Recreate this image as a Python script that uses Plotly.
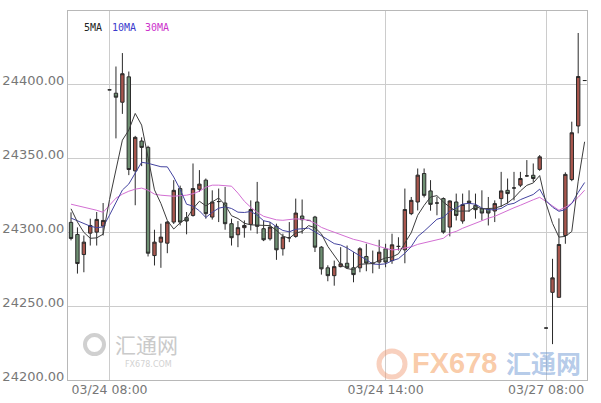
import plotly.graph_objects as go

opens = [24306.8, 24298.6, 24285.0, 24299.5, 24300.2, 24304.3, 24396.6, 24394.3, 24388.2, 24405.4,
         24341.7, 24361.9, 24357.6, 24284.3, 24293.4, 24292.7, 24307.0, 24329.7, 24310.0, 24311.5,
         24329.2, 24335.4, 24310.4, 24320.9, 24319.9, 24305.9, 24298.4, 24303.2, 24305.4, 24320.6,
         24302.5, 24295.7, 24304.1, 24288.9, 24296.4, 24297.3, 24311.1, 24308.1, 24310.4, 24290.0,
         24276.0, 24270.7, 24276.8, 24279.1, 24276.0, 24276.0, 24283.7, 24279.1, 24279.9, 24288.9,
         24280.9, 24290.5, 24288.2, 24312.7, 24320.6, 24339.9, 24328.1, 24319.9, 24322.9, 24303.6,
         24320.6, 24307.7, 24321.2, 24318.3, 24316.1, 24315.7, 24314.5, 24322.9, 24328.5, 24330.1,
         24332.0, 24338.3, 24338.7, 24342.7, 24235.2, 24259.4, 24256.0, 24297.9, 24335.8, 24372.1,
         24402.9]
highs = [24313.6, 24303.4, 24297.9, 24309.3, 24313.8, 24319.9, 24396.6, 24412.4, 24421.5, 24409.0,
         24365.4, 24364.4, 24358.7, 24301.8, 24305.9, 24307.7, 24335.4, 24331.7, 24313.8, 24346.7,
         24342.2, 24336.5, 24328.5, 24329.7, 24330.8, 24309.3, 24307.7, 24308.1, 24321.7, 24334.2,
         24308.1, 24307.0, 24305.9, 24299.1, 24307.0, 24322.9, 24322.3, 24308.1, 24311.2, 24290.7,
         24277.7, 24280.9, 24290.0, 24291.1, 24286.6, 24290.0, 24292.3, 24287.7, 24295.0, 24292.3,
         24299.1, 24296.7, 24329.7, 24324.0, 24343.3, 24343.3, 24335.4, 24324.0, 24323.7, 24321.7,
         24326.3, 24326.3, 24328.5, 24326.3, 24328.5, 24324.0, 24321.7, 24341.0, 24336.5, 24341.0,
         24341.0, 24349.0, 24346.7, 24352.4, 24235.2, 24282.1, 24309.5, 24340.7, 24375.0, 24435.1,
         24402.9]
lows = [24294.6, 24272.1, 24273.0, 24291.1, 24291.1, 24297.9, 24396.6, 24363.7, 24380.3, 24338.8,
        24318.4, 24344.9, 24283.7, 24277.6, 24276.0, 24285.9, 24305.7, 24304.7, 24298.7, 24310.7,
        24327.4, 24309.3, 24308.7, 24307.0, 24301.8, 24291.1, 24290.0, 24296.4, 24301.3, 24299.1,
        24294.1, 24294.5, 24281.4, 24284.3, 24293.4, 24296.4, 24299.1, 24308.1, 24286.7, 24271.4,
        24266.9, 24263.9, 24276.3, 24275.3, 24266.2, 24273.0, 24273.7, 24272.3, 24275.3, 24276.4,
        24278.7, 24287.7, 24279.1, 24311.7, 24314.9, 24323.7, 24314.7, 24311.6, 24299.1, 24297.3,
        24308.1, 24305.9, 24313.8, 24309.3, 24308.1, 24304.7, 24307.0, 24317.2, 24319.5, 24321.7,
        24330.7, 24337.7, 24334.2, 24341.7, 24235.2, 24224.3, 24255.7, 24292.3, 24334.7, 24367.1,
        24402.9]
closes = [24295.9, 24278.9, 24293.4, 24304.7, 24308.8, 24308.1, 24396.6, 24391.6, 24407.5, 24342.6,
          24364.4, 24357.6, 24285.9, 24293.4, 24296.8, 24307.0, 24328.5, 24307.0, 24307.7, 24329.7,
          24332.7, 24312.7, 24320.6, 24320.9, 24305.9, 24296.4, 24303.2, 24304.7, 24315.5, 24304.1,
          24295.0, 24303.6, 24288.2, 24296.8, 24296.4, 24313.1, 24308.6, 24308.1, 24290.0, 24275.3,
          24270.7, 24276.8, 24278.7, 24276.0, 24271.4, 24288.9, 24279.2, 24279.1, 24286.6, 24279.9,
          24291.6, 24290.5, 24315.5, 24321.7, 24338.8, 24325.1, 24319.0, 24319.9, 24300.2, 24321.3,
          24311.5, 24318.9, 24320.2, 24315.4, 24313.1, 24313.1, 24319.5, 24328.1, 24326.3, 24330.1,
          24336.5, 24338.3, 24336.5, 24351.2, 24235.2, 24269.2, 24291.8, 24339.3, 24367.5, 24405.6,
          24402.9]

ma5 = [24316.0, 24307.0, 24300.0, 24296.0, 24296.3, 24298.8, 24322.3, 24342.0, 24362.5, 24369.3,
       24380.6, 24372.7, 24351.6, 24328.8, 24319.6, 24308.1, 24302.3, 24306.5, 24309.4, 24316.0,
       24321.1, 24318.0, 24320.7, 24323.3, 24318.6, 24311.3, 24309.4, 24306.2, 24305.1, 24304.8,
       24304.5, 24304.6, 24301.3, 24297.5, 24296.0, 24299.6, 24300.6, 24304.6, 24303.2, 24299.0,
       24290.5, 24284.2, 24278.3, 24275.5, 24274.7, 24278.4, 24278.8, 24278.9, 24281.0, 24282.7,
       24283.3, 24285.5, 24292.8, 24299.8, 24311.6, 24318.3, 24324.0, 24324.9, 24320.6, 24317.1,
       24314.4, 24314.4, 24314.5, 24317.6, 24315.9, 24316.2, 24316.4, 24317.8, 24320.0, 24323.4,
       24328.1, 24331.9, 24333.5, 24338.5, 24319.5, 24306.1, 24296.8, 24297.3, 24300.6, 24334.7,
       24361.4]
ma10 = [24309.7, 24307.7, 24305.7, 24304.2, 24303.2, 24303.7, 24311.7, 24320.7, 24328.7, 24332.8,
        24339.7, 24347.5, 24346.8, 24345.7, 24344.5, 24344.4, 24337.5, 24329.1, 24319.1, 24317.8,
        24314.6, 24310.1, 24313.6, 24316.4, 24317.3, 24316.2, 24313.7, 24313.5, 24314.2, 24311.7,
        24307.9, 24307.0, 24303.8, 24301.3, 24300.4, 24302.1, 24302.6, 24302.9, 24300.4, 24297.5,
        24295.1, 24292.4, 24291.5, 24289.4, 24286.9, 24284.5, 24281.5, 24278.6, 24278.3, 24278.7,
        24280.8, 24282.2, 24285.9, 24290.4, 24297.2, 24300.8, 24304.8, 24308.9, 24310.2, 24314.4,
        24316.4, 24319.2, 24319.7, 24319.1, 24316.5, 24315.3, 24315.4, 24316.2, 24318.8, 24319.7,
        24322.2, 24324.1, 24325.7, 24329.3, 24321.5, 24317.1, 24314.3, 24315.4, 24319.6, 24327.1,
        24333.8]
ma30 = [24319.1, 24318.1, 24317.0, 24316.0, 24315.0, 24313.6, 24318.4, 24323.2, 24325.9, 24327.9,
        24329.3, 24330.0, 24328.6, 24325.9, 24325.2, 24324.9, 24324.5, 24324.9, 24325.2, 24326.2,
        24327.9, 24330.6, 24332.0, 24332.0, 24331.7, 24331.3, 24326.6, 24321.1, 24317.0, 24313.6,
        24310.9, 24309.6, 24308.5, 24308.2, 24308.5, 24309.2, 24308.9, 24308.2, 24306.2, 24303.4,
        24301.7, 24300.0, 24298.3, 24296.6, 24295.3, 24294.3, 24292.9, 24291.5, 24290.2, 24289.2,
        24288.1, 24288.5, 24289.5, 24290.2, 24291.9, 24292.9, 24293.9, 24294.6, 24296.0, 24299.4,
        24300.7, 24302.8, 24304.5, 24306.5, 24307.9, 24309.6, 24310.9, 24313.0, 24315.0, 24316.7,
        24318.4, 24320.4, 24322.1, 24323.8, 24320.8, 24317.7, 24315.0, 24317.0, 24319.8, 24323.8,
        24328.6]

x_tick_pos = [6, 49, 74]
x_tick_labels = ["03/24 08:00", "03/24 14:00", "03/27 08:00"]
y_tick_vals = [24200, 24250, 24300, 24350, 24400]
y_tick_labels = ["24200.00", "24250.00", "24300.00", "24350.00", "24400.00"]
legend_names = ["5MA", "10MA", "30MA"]
legend_colors = ["#222222", "#3a3acc", "#cc33cc"]

idx = list(range(len(opens)))

W, H = 601, 403
ML, MR, MT, MB = 68, 14, 11, 23
PW, PH = W - ML - MR, H - MT - MB


def px(xp):
    return (xp - ML) / PW


def py(yp):
    return (H - MB - yp) / PH


fig = go.Figure()
fig.add_trace(go.Candlestick(
    x=idx, open=opens, high=highs, low=lows, close=closes,
    increasing=dict(line=dict(color="#2a2a2a", width=1), fillcolor="#a8564d"),
    decreasing=dict(line=dict(color="#2a2a2a", width=1), fillcolor="#6e8f72"),
    whiskerwidth=0, showlegend=False, hoverinfo="skip"))
fig.add_trace(go.Scatter(x=idx, y=ma30, mode="lines",
                         line=dict(color="#d36fd3", width=1), showlegend=False, hoverinfo="skip"))
fig.add_trace(go.Scatter(x=idx, y=ma10, mode="lines",
                         line=dict(color="#4444a0", width=1), showlegend=False, hoverinfo="skip"))
fig.add_trace(go.Scatter(x=idx, y=ma5, mode="lines",
                         line=dict(color="#3c3c3c", width=1), showlegend=False, hoverinfo="skip"))

annotations = []
leg_x = [82, 110, 143]
for name, col, lx in zip(legend_names, legend_colors, leg_x):
    annotations.append(dict(x=px(lx), y=py(27.5), xref="paper", yref="paper",
                            text=name, showarrow=False, xanchor="left", yanchor="middle",
                            font=dict(family="DejaVu Sans Mono", size=10, color=col)))
# watermarks
annotations.append(dict(x=px(146), y=py(344), xref="paper", yref="paper", text="汇通网",
                        showarrow=False, xanchor="center", yanchor="middle",
                        font=dict(family="Noto Sans CJK SC", size=21, color="#cacaca")))
annotations.append(dict(x=px(148), y=py(364), xref="paper", yref="paper", text="FX678.COM",
                        showarrow=False, xanchor="center", yanchor="middle",
                        font=dict(family="DejaVu Sans", size=8, color="#d2d2d2")))
annotations.append(dict(x=px(454), y=py(363), xref="paper", yref="paper", text="<b>FX678</b>",
                        showarrow=False, xanchor="center", yanchor="middle",
                        font=dict(family="Liberation Sans", size=29,
                                  color="rgba(245,160,95,0.55)")))
annotations.append(dict(x=px(543), y=py(362), xref="paper", yref="paper", text="<b>汇通网</b>",
                        showarrow=False, xanchor="center", yanchor="middle",
                        font=dict(family="Noto Sans CJK SC", size=25, color="rgba(120,160,215,0.55)")))

shapes = [
    dict(type="circle", xref="paper", yref="paper", x0=px(85), x1=px(104), y0=py(354), y1=py(335),
         line=dict(color="#d0d0d0", width=4)),
    dict(type="circle", xref="paper", yref="paper", x0=px(379), x1=px(405), y0=py(377), y1=py(351),
         line=dict(color="rgba(240,150,110,0.45)", width=5)),
]

fig.update_layout(
    width=W, height=H,
    margin=dict(l=ML, r=MR, t=MT, b=MB, pad=0, autoexpand=False),
    paper_bgcolor="white", plot_bgcolor="white",
    boxgap=0.25,
    showlegend=False,
    annotations=annotations,
    shapes=shapes,
    xaxis=dict(range=[-0.47, 80.37], tickvals=x_tick_pos, ticktext=x_tick_labels,
               automargin=False,
               showgrid=True, gridcolor="#cccccc", gridwidth=1, zeroline=False,
               showline=True, linecolor="#b8b8b8", linewidth=1, mirror=True, ticks="",
               ticklabelstandoff=-2,
               rangeslider=dict(visible=False),
               tickfont=dict(family="DejaVu Sans", size=12.5, color="#777777")),
    yaxis=dict(range=[24200, 24450], tickvals=y_tick_vals, ticktext=y_tick_labels,
               automargin=False,
               showgrid=True, gridcolor="#cccccc", gridwidth=1, zeroline=False,
               showline=True, linecolor="#b8b8b8", linewidth=1, mirror=True, ticks="",
               ticklabelshift=-4, ticklabelstandoff=0,
               tickfont=dict(family="DejaVu Sans", size=13, color="#777777")),
)

fig.write_html("out.html", config={"displayModeBar": False},
               post_script="document.body.style.margin='0px';document.body.style.overflow='hidden';")
